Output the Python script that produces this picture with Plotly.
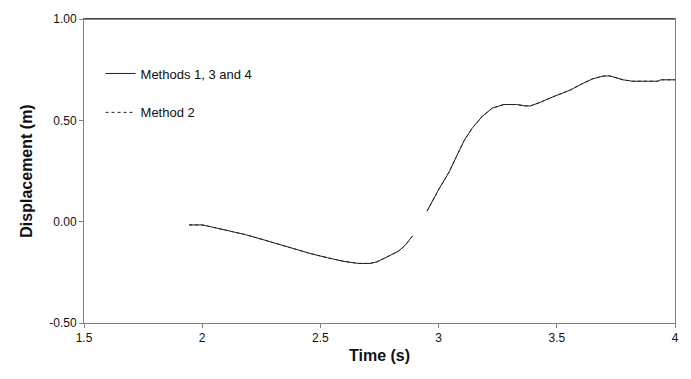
import plotly.graph_objects as go

time_s = [1.945, 2.0, 2.043, 2.10, 2.183, 2.267, 2.324, 2.386, 2.46, 2.53, 2.60, 2.66, 2.71,
          2.74, 2.77, 2.80, 2.83, 2.86, 2.89, None, 2.951, 2.975, 3.002, 3.044, 3.08,
          3.107, 3.143, 3.185, 3.227, 3.276, 3.33, 3.367, 3.388, 3.43, 3.486, 3.556, 3.61,
          3.654, 3.70, 3.724, 3.78, 3.82, 3.927, 3.94, 4.0]
displacement = [-0.016, -0.016, -0.027, -0.042, -0.064, -0.092, -0.112, -0.134, -0.158,
                -0.178, -0.196, -0.206, -0.206, -0.198, -0.18, -0.165, -0.146, -0.115,
                -0.07, None, 0.052, 0.105, 0.162, 0.244, 0.333, 0.398, 0.463, 0.52, 0.56,
                0.578, 0.578, 0.571, 0.571, 0.589, 0.617, 0.649, 0.682, 0.706, 0.719, 0.719,
                0.70, 0.693, 0.693, 0.70, 0.70]

y_ticks = [-0.5, 0.0, 0.5, 1.0]
y_tick_labels = ["-0.50", "0.00", "0.50", "1.00"]
x_ticks = [1.5, 2, 2.5, 3, 3.5, 4]
x_tick_labels = ["1.5", "2", "2.5", "3", "3.5", "4"]

FONT = "Liberation Sans, Arial"

fig = go.Figure()
fig.add_trace(go.Scatter(x=time_s, y=displacement, mode="lines", name="Method 2",
                         legendgroup="b", legendrank=2,
                         line=dict(color="#222222", width=1, dash="dot"),
                         connectgaps=False))
fig.add_trace(go.Scatter(x=time_s, y=displacement, mode="lines", name="Methods 1, 3 and 4",
                         legendgroup="a", legendrank=1,
                         line=dict(color="#222222", width=1),
                         connectgaps=False))

axis_common = dict(showline=True, linecolor="#808080", linewidth=1, mirror=True,
                   ticks="outside", ticklen=4, tickcolor="#808080", showgrid=False,
                   zeroline=False, tickfont=dict(family=FONT, size=12, color="#111111"))

fig.update_xaxes(range=[1.5, 4], tickvals=x_ticks, ticktext=x_tick_labels,
                 title=dict(text="<b>Time (s)</b>", font=dict(family=FONT, size=16, color="#111111"), standoff=5),
                 **axis_common)
fig.update_yaxes(range=[-0.5, 1.0], tickvals=y_ticks, ticktext=y_tick_labels,
                 title=dict(text="<b>Displacement (m)</b>", font=dict(family=FONT, size=16, color="#111111"), standoff=12),
                 **axis_common)

fig.add_shape(type="line", xref="paper", yref="paper", x0=0, x1=1, y0=1, y1=1,
              line=dict(color="#111111", width=1))

fig.update_layout(
    width=691, height=379,
    margin=dict(l=84, r=12, t=15, b=56),
    plot_bgcolor="white", paper_bgcolor="white",
    showlegend=True,
    legend=dict(x=0.028, y=0.87, xanchor="left", yanchor="top", bgcolor="rgba(0,0,0,0)",
                traceorder="grouped", tracegroupgap=19,
                font=dict(family=FONT, size=13, color="#111111")),
)

fig.write_html("out.html")
